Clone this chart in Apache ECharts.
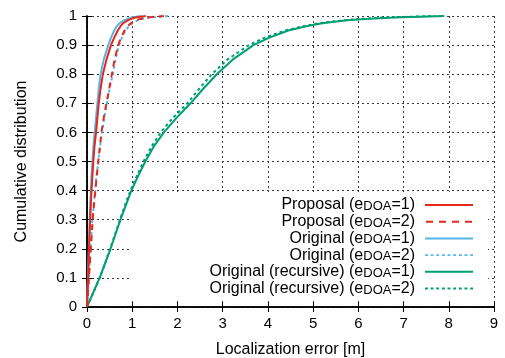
<!DOCTYPE html>
<html>
<head>
<meta charset="utf-8">
<script src="https://cdn.jsdelivr.net/npm/echarts@6/dist/echarts.min.js"></script>
<style>html,body{margin:0;padding:0;background:#fff;}#c{width:505px;height:358px;}</style>
</head>
<body>
<div id="c"></div>
<script>
// cumulative levels (y) and the error quantiles (x, metres) of each curve at those levels
const levels = [0, 0.05, 0.1, 0.15, 0.2, 0.25, 0.3, 0.35, 0.4, 0.45, 0.5, 0.55, 0.6, 0.65, 0.7,
                0.75, 0.8, 0.85, 0.9, 0.925, 0.95, 0.965, 0.975, 0.985, 0.99, 0.995, 1];
const proposal1 = [0, 0.012, 0.025, 0.035, 0.045, 0.057, 0.07, 0.085, 0.1, 0.12, 0.14, 0.165, 0.2, 0.23,
                   0.26, 0.3, 0.35, 0.43, 0.53, 0.6, 0.68, 0.74, 0.8, 0.9, 0.98, 1.07, 1.3];
const proposal2 = [0, 0.022, 0.043, 0.063, 0.085, 0.105, 0.125, 0.155, 0.185, 0.215, 0.25, 0.285, 0.32, 0.37,
                   0.43, 0.49, 0.55, 0.61, 0.69, 0.75, 0.83, 0.9, 0.97, 1.08, 1.18, 1.33, 1.7];
const original1 = [0, 0.01, 0.02, 0.03, 0.04, 0.05, 0.06, 0.07, 0.085, 0.1, 0.12, 0.14, 0.17, 0.2,
                   0.23, 0.26, 0.3, 0.37, 0.47, 0.53, 0.6, 0.66, 0.72, 0.82, 0.9, 0.98, 1.2];
const original2 = [0, 0.02, 0.04, 0.06, 0.08, 0.1, 0.12, 0.15, 0.18, 0.21, 0.25, 0.29, 0.33, 0.38,
                   0.44, 0.5, 0.57, 0.63, 0.71, 0.77, 0.85, 0.93, 1.0, 1.12, 1.22, 1.38, 1.8];
const recursive1 = [0, 0.14, 0.28, 0.4, 0.52, 0.63, 0.74, 0.86, 0.98, 1.13, 1.29, 1.47, 1.7, 1.98,
                    2.29, 2.57, 2.87, 3.22, 3.68, 4.02, 4.45, 4.85, 5.2, 5.75, 6.15, 6.8, 7.9];
const recursive2 = [0, 0.14, 0.28, 0.4, 0.51, 0.62, 0.73, 0.84, 0.96, 1.1, 1.25, 1.42, 1.63, 1.9,
                    2.22, 2.48, 2.76, 3.1, 3.58, 3.92, 4.38, 4.78, 5.12, 5.65, 6.05, 6.6, 7.7];
const seriesNames = [
  'Proposal (eDOA=1)', 'Proposal (eDOA=2)',
  'Original (eDOA=1)', 'Original (eDOA=2)',
  'Original (recursive) (eDOA=1)', 'Original (recursive) (eDOA=2)'
];
const xTicks = [0, 1, 2, 3, 4, 5, 6, 7, 8, 9];
const yTicks = [0, 0.1, 0.2, 0.3, 0.4, 0.5, 0.6, 0.7, 0.8, 0.9, 1];

const seriesX = [proposal1, proposal2, original1, original2, recursive1, recursive2];
const colors = ['#e5281c', '#e5281c', '#56b4e9', '#56b4e9', '#009e73', '#009e73'];
const dashes = ['solid', [6, 5], 'solid', [3, 3], 'solid', [3, 3]];
const solidIcon = 'path://M0,0H48V2H0Z';
const longDashIcon = 'path://M0,0H7V2H0Z M13,0H20V2H13Z M26,0H33V2H26Z M39,0H46V2H39Z';
const shortDashIcon = 'path://M0,0H3V2H0Z M6,0H9V2H6Z M12,0H15V2H12Z M18,0H21V2H18Z M24,0H27V2H24Z M30,0H33V2H30Z M36,0H39V2H36Z M42,0H45V2H42Z M48,0H51V2H48Z';
const icons = [solidIcon, longDashIcon, solidIcon, shortDashIcon, solidIcon, shortDashIcon];

const font = '"Liberation Sans", Arial, Helvetica, sans-serif';
const chart = echarts.init(document.getElementById('c'), null, {renderer: 'canvas'});

const series = seriesX.map((xs, i) => ({
  name: seriesNames[i],
  type: 'line',
  data: xs.map((x, k) => [x, levels[k]]),
  symbol: 'none',
  smooth: false,
  lineStyle: {color: colors[i], width: 2, type: dashes[i]},
  itemStyle: {color: colors[i]},
  z: 10 - i,
  xAxisIndex: 0, yAxisIndex: 0
}));

const axisCommon = {
  type: 'value',
  axisLine: {show: true, lineStyle: {color: '#000', width: 1.5}},
  axisTick: {show: true, inside: true, length: 5, lineStyle: {color: '#000', width: 1}},
};
const gridLine = {show: true, lineStyle: {color: '#3a3a3a', width: 1, type: [2, 3]}};

chart.setOption({
  animation: false,
  backgroundColor: '#fff',
  grid: {left: 87, right: 11, top: 16, bottom: 51, containLabel: false, outerBoundsMode: 'none'},
  legend: {
    orient: 'vertical',
    align: 'right',
    right: 17,
    top: 192,
    padding: [5, 15, 3, 80],
    itemGap: 0.7,
    itemWidth: 48,
    itemHeight: 2,
    backgroundColor: '#fff',
    itemStyle: {borderWidth: 0},
    data: seriesNames.map((n, i) => ({name: n, icon: icons[i], itemStyle: {color: colors[i], borderWidth: 0}})),
    formatter: n => n.replace('eDOA', 'e{sub|DOA}'),
    textStyle: {
      fontFamily: font, fontSize: 16, color: '#000', lineHeight: 16,
      padding: [0, 5, 0, 0],
      rich: {sub: {fontFamily: font, fontSize: 13, lineHeight: 6, verticalAlign: 'bottom', color: '#000'}}
    }
  },
  xAxis: [
    Object.assign({}, axisCommon, {
      min: xTicks[0], max: xTicks[xTicks.length - 1], interval: 1,
      position: 'bottom',
      name: 'Localization error [m]', nameLocation: 'middle', nameGap: 35,
      nameTextStyle: {fontFamily: font, fontSize: 16, color: '#000'},
      axisLabel: {fontFamily: font, fontSize: 15, color: '#000', margin: 9},
      splitLine: gridLine
    }),
    Object.assign({}, axisCommon, {
      min: xTicks[0], max: xTicks[xTicks.length - 1], interval: 1,
      position: 'top', axisLabel: {show: false}, splitLine: {show: false}
    })
  ],
  yAxis: [
    Object.assign({}, axisCommon, {
      min: yTicks[0], max: yTicks[yTicks.length - 1], interval: 0.1,
      position: 'left',
      name: 'Cumulative distribution', nameLocation: 'middle', nameGap: 57,
      nameTextStyle: {fontFamily: font, fontSize: 16, color: '#000'},
      axisLabel: {fontFamily: font, fontSize: 15, color: '#000', margin: 10},
      splitLine: gridLine
    }),
    Object.assign({}, axisCommon, {
      min: yTicks[0], max: yTicks[yTicks.length - 1], interval: 0.1,
      position: 'right', axisLabel: {show: false}, splitLine: {show: false}
    })
  ],
  series: series
});
</script>
</body>
</html>
